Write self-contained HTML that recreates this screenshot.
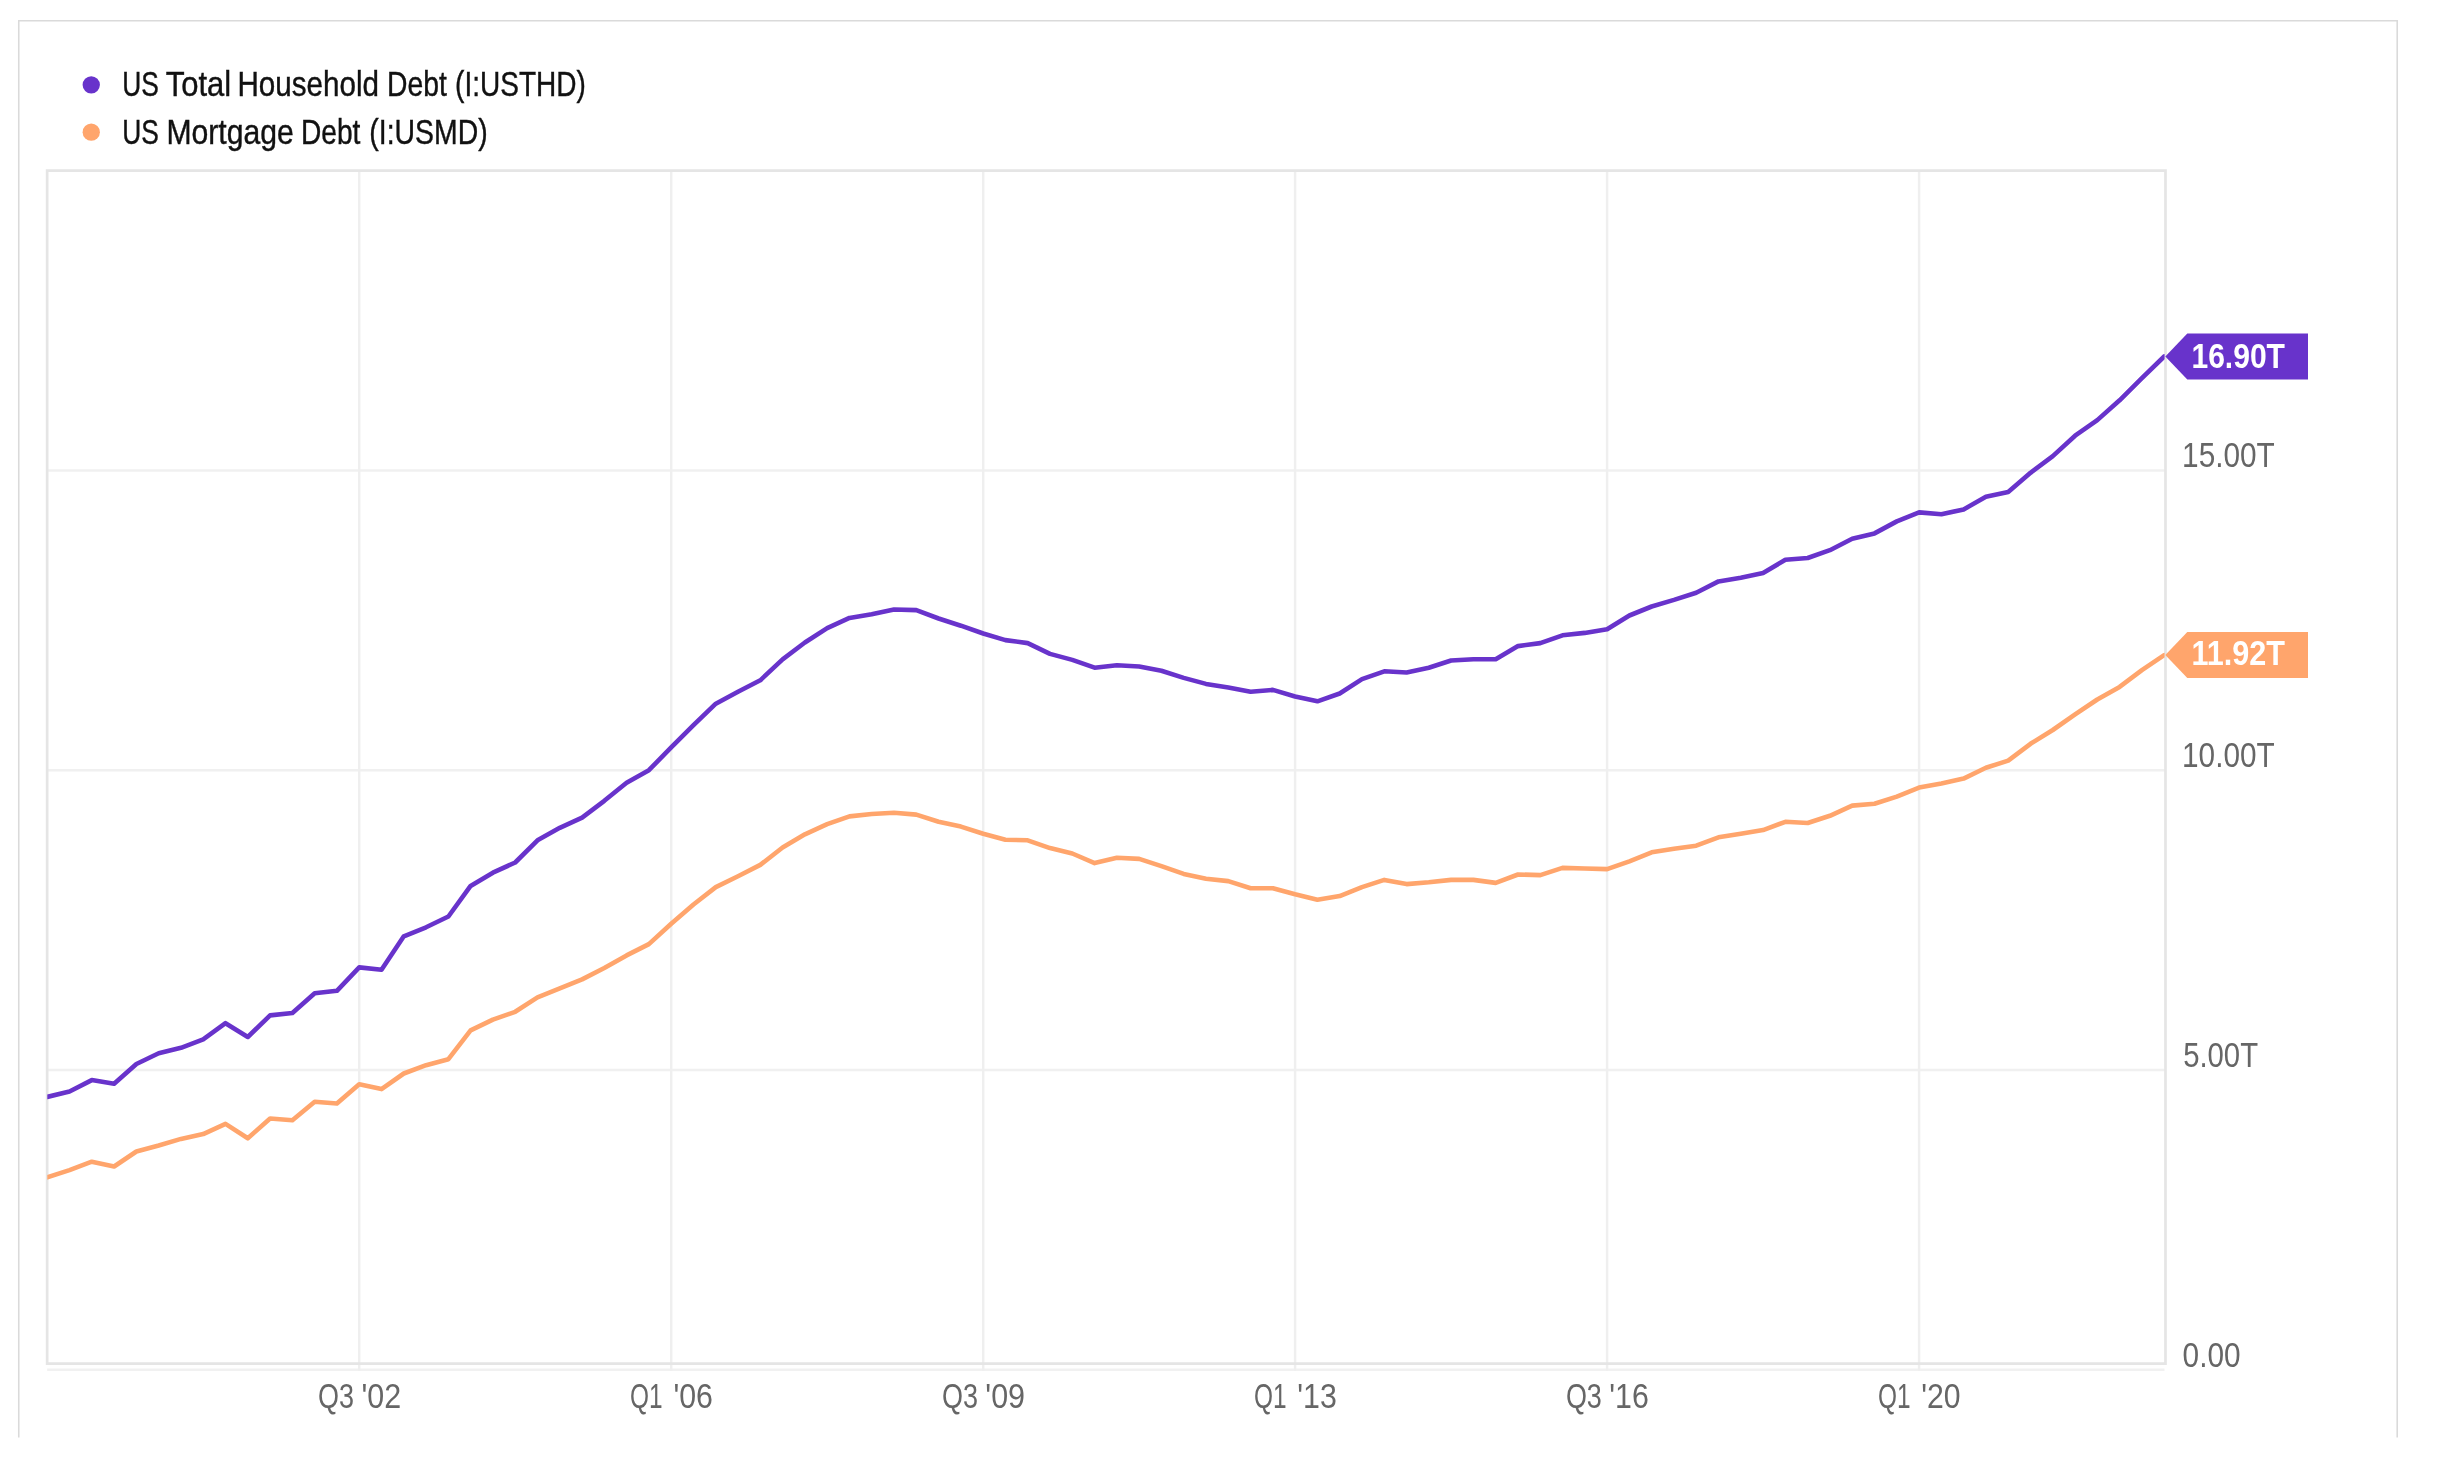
<!DOCTYPE html>
<html><head><meta charset="utf-8"><title>US Total Household Debt</title>
<style>
html,body{margin:0;padding:0;background:#fff;}
body{width:2446px;height:1462px;overflow:hidden;font-family:"Liberation Sans",sans-serif;}
svg{display:block;position:absolute;left:0;top:0;will-change:transform;}
text{font-family:"Liberation Sans",sans-serif;}
</style></head><body>
<svg width="2446" height="1462" viewBox="0 0 2446 1462">
<rect x="0" y="0" width="2446" height="1462" fill="#ffffff"/>
<defs><clipPath id="plot"><rect x="47.3" y="171" width="2117.3" height="1199"/></clipPath></defs>
<path d="M18.75,1437.5 V20.78 H2397.2 V1437.5" fill="none" stroke="#dadada" stroke-width="1.55"/>
<line x1="47.15" x2="2165.5" y1="470.45" y2="470.45" stroke="#f0f0f0" stroke-width="2.5"/>
<line x1="47.15" x2="2165.5" y1="770.2" y2="770.2" stroke="#f0f0f0" stroke-width="2.5"/>
<line x1="47.15" x2="2165.5" y1="1069.95" y2="1069.95" stroke="#f0f0f0" stroke-width="2.5"/>
<line x1="47.15" x2="2164.5" y1="1369.7" y2="1369.7" stroke="#f1f1f1" stroke-width="2.5"/>
<line x1="359.2" x2="359.2" y1="170.7" y2="1371" stroke="#efefef" stroke-width="2.5"/>
<line x1="671.2" x2="671.2" y1="170.7" y2="1371" stroke="#efefef" stroke-width="2.5"/>
<line x1="983.2" x2="983.2" y1="170.7" y2="1371" stroke="#efefef" stroke-width="2.5"/>
<line x1="1295.1" x2="1295.1" y1="170.7" y2="1371" stroke="#efefef" stroke-width="2.5"/>
<line x1="1607.1" x2="1607.1" y1="170.7" y2="1371" stroke="#efefef" stroke-width="2.5"/>
<line x1="1919.1" x2="1919.1" y1="170.7" y2="1371" stroke="#efefef" stroke-width="2.5"/>
<path d="M47.15,1363.7 V170.7 H2165.5 V1363.7 Z" fill="none" stroke="#e5e5e5" stroke-width="2.7"/>
<g clip-path="url(#plot)">
<polyline points="47.2,1177.3 69.5,1170.1 91.8,1161.7 114.1,1166.5 136.4,1151.5 158.7,1145.5 181.0,1138.9 203.2,1134.1 225.5,1123.9 247.8,1138.3 270.1,1118.5 292.4,1120.3 314.7,1101.7 336.9,1103.5 359.2,1084.3 381.5,1089.1 403.8,1073.5 426.1,1065.2 448.4,1059.2 470.6,1030.4 492.9,1019.6 515.2,1011.8 537.5,997.4 559.8,988.4 582.1,979.4 604.3,968.0 626.6,955.4 648.9,944.1 671.2,923.7 693.5,904.5 715.8,887.1 738.0,876.3 760.3,864.9 782.6,847.5 804.9,834.3 827.2,824.2 849.5,816.4 871.7,814.0 894.0,812.8 916.3,814.6 938.6,821.8 960.9,826.6 983.2,833.7 1005.4,839.7 1027.7,840.3 1050.0,848.1 1072.3,853.5 1094.6,863.1 1116.9,857.7 1139.2,858.9 1161.4,866.1 1183.7,873.9 1206.0,878.7 1228.3,881.1 1250.6,888.3 1272.9,888.3 1295.1,894.3 1317.4,899.7 1339.7,896.1 1362.0,887.1 1384.3,879.9 1406.6,884.1 1428.8,882.3 1451.1,879.9 1473.4,879.9 1495.7,882.9 1518.0,874.5 1540.3,875.1 1562.5,867.9 1584.8,868.5 1607.1,869.1 1629.4,861.3 1651.7,852.3 1674.0,848.7 1696.2,845.7 1718.5,837.3 1740.8,833.7 1763.1,830.1 1785.4,821.8 1807.7,823.0 1829.9,815.8 1852.2,805.6 1874.5,803.8 1896.8,796.6 1919.1,787.6 1941.4,783.4 1963.6,778.6 1985.9,767.8 2008.2,760.6 2030.5,743.8 2052.8,730.0 2075.1,714.4 2097.3,699.5 2119.6,686.9 2141.9,670.1 2164.2,655.1" fill="none" stroke="#FFA56C" stroke-width="4.6" stroke-linejoin="round" stroke-linecap="round"/>
<polyline points="47.2,1096.9 69.5,1091.5 91.8,1080.1 114.1,1083.7 136.4,1064.0 158.7,1053.2 181.0,1047.8 203.2,1039.4 225.5,1023.2 247.8,1037.0 270.1,1015.4 292.4,1013.0 314.7,993.2 336.9,990.8 359.2,967.4 381.5,969.8 403.8,936.3 426.1,927.3 448.4,916.5 470.6,885.9 492.9,872.7 515.2,862.5 537.5,840.3 559.8,827.8 582.1,817.6 604.3,800.8 626.6,782.8 648.9,770.2 671.2,747.4 693.5,725.2 715.8,703.7 738.0,691.7 760.3,680.3 782.6,659.3 804.9,642.5 827.2,628.1 849.5,617.9 871.7,614.3 894.0,609.5 916.3,610.1 938.6,618.5 960.9,625.7 983.2,633.5 1005.4,640.1 1027.7,643.1 1050.0,653.9 1072.3,659.9 1094.6,667.7 1116.9,665.3 1139.2,666.5 1161.4,670.7 1183.7,677.9 1206.0,683.9 1228.3,687.5 1250.6,691.7 1272.9,689.9 1295.1,696.5 1317.4,701.3 1339.7,693.5 1362.0,679.1 1384.3,671.3 1406.6,672.5 1428.8,667.7 1451.1,660.5 1473.4,659.3 1495.7,659.3 1518.0,646.1 1540.3,643.1 1562.5,635.3 1584.8,632.9 1607.1,629.3 1629.4,615.5 1651.7,606.5 1674.0,599.9 1696.2,592.7 1718.5,581.4 1740.8,577.8 1763.1,573.0 1785.4,559.8 1807.7,558.0 1829.9,550.2 1852.2,538.8 1874.5,533.4 1896.8,521.4 1919.1,512.4 1941.4,514.2 1963.6,509.4 1985.9,496.8 2008.2,492.0 2030.5,472.8 2052.8,456.1 2075.1,435.7 2097.3,420.1 2119.6,400.3 2141.9,378.1 2164.2,356.5" fill="none" stroke="#6833CB" stroke-width="4.6" stroke-linejoin="round" stroke-linecap="round"/>
</g>
<path d="M2165.3,356.4 L2187.3,333.4 H2308 V379.4 H2187.3 Z" fill="#6833CB"/>
<path d="M2165.3,655.1 L2187.3,632.1 H2308 V678.1 H2187.3 Z" fill="#FFA56C"/>
<circle cx="91.25" cy="84.85" r="8.65" fill="#6833CB"/>
<circle cx="91.25" cy="132.2" r="8.65" fill="#FFA56C"/>
<text y="95.9" font-size="34.3" fill="#111111" stroke="#111111" stroke-width="0.4"><tspan x="122.32" textLength="36.64" lengthAdjust="spacingAndGlyphs">US</tspan> <tspan x="165.73" textLength="65.46" lengthAdjust="spacingAndGlyphs">Total</tspan> <tspan x="237.43" textLength="141.63" lengthAdjust="spacingAndGlyphs">Household</tspan> <tspan x="387.04" textLength="59.77" lengthAdjust="spacingAndGlyphs">Debt</tspan> <tspan x="455.12" textLength="130.69" lengthAdjust="spacingAndGlyphs">(I:USTHD)</tspan></text>
<text y="143.6" font-size="34.3" fill="#111111" stroke="#111111" stroke-width="0.4"><tspan x="122.32" textLength="36.64" lengthAdjust="spacingAndGlyphs">US</tspan> <tspan x="166.39" textLength="127.36" lengthAdjust="spacingAndGlyphs">Mortgage</tspan> <tspan x="300.95" textLength="59.46" lengthAdjust="spacingAndGlyphs">Debt</tspan> <tspan x="369.30" textLength="118.34" lengthAdjust="spacingAndGlyphs">(I:USMD)</tspan></text>
<text y="467.25" font-size="34.6" fill="#666666"><tspan x="2182.07" textLength="92.73" lengthAdjust="spacingAndGlyphs">15.00T</tspan></text>
<text y="767.0" font-size="34.6" fill="#666666"><tspan x="2182.07" textLength="92.62" lengthAdjust="spacingAndGlyphs">10.00T</tspan></text>
<text y="1066.85" font-size="34.6" fill="#666666"><tspan x="2183.13" textLength="74.92" lengthAdjust="spacingAndGlyphs">5.00T</tspan></text>
<text y="1366.6" font-size="34.6" fill="#666666"><tspan x="2182.61" textLength="58.02" lengthAdjust="spacingAndGlyphs">0.00</tspan></text>
<text y="1408.2" font-size="34.6" fill="#666666"><tspan x="318.01" textLength="36.00" lengthAdjust="spacingAndGlyphs">Q3</tspan> <tspan x="361.40" textLength="39.69" lengthAdjust="spacingAndGlyphs">&#39;02</tspan></text>
<text y="1408.2" font-size="34.6" fill="#666666"><tspan x="630.09" textLength="32.60" lengthAdjust="spacingAndGlyphs">Q1</tspan> <tspan x="673.38" textLength="39.53" lengthAdjust="spacingAndGlyphs">&#39;06</tspan></text>
<text y="1408.2" font-size="34.6" fill="#666666"><tspan x="941.95" textLength="36.00" lengthAdjust="spacingAndGlyphs">Q3</tspan> <tspan x="985.34" textLength="39.69" lengthAdjust="spacingAndGlyphs">&#39;09</tspan></text>
<text y="1408.2" font-size="34.6" fill="#666666"><tspan x="1254.04" textLength="32.60" lengthAdjust="spacingAndGlyphs">Q1</tspan> <tspan x="1297.32" textLength="39.53" lengthAdjust="spacingAndGlyphs">&#39;13</tspan></text>
<text y="1408.2" font-size="34.6" fill="#666666"><tspan x="1565.89" textLength="36.00" lengthAdjust="spacingAndGlyphs">Q3</tspan> <tspan x="1609.29" textLength="39.53" lengthAdjust="spacingAndGlyphs">&#39;16</tspan></text>
<text y="1408.2" font-size="34.6" fill="#666666"><tspan x="1877.98" textLength="32.60" lengthAdjust="spacingAndGlyphs">Q1</tspan> <tspan x="1921.27" textLength="39.36" lengthAdjust="spacingAndGlyphs">&#39;20</tspan></text>
<text y="367.5" font-size="34.2" font-weight="bold" fill="#ffffff"><tspan x="2191.45" textLength="93.50" lengthAdjust="spacingAndGlyphs">16.90T</tspan></text>
<text y="664.6" font-size="34.2" font-weight="bold" fill="#ffffff"><tspan x="2191.41" textLength="93.54" lengthAdjust="spacingAndGlyphs">11.92T</tspan></text>
</svg>
</body></html>
